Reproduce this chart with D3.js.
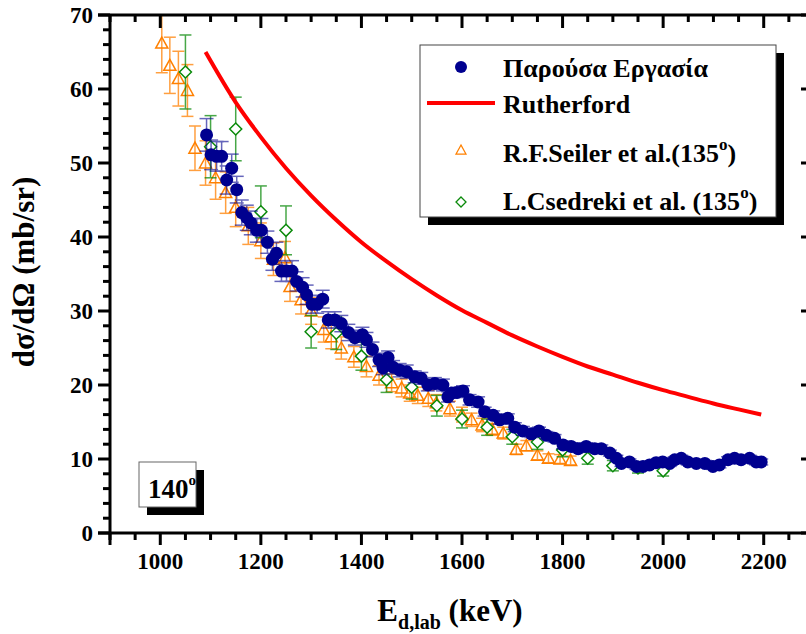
<!DOCTYPE html>
<html><head><meta charset="utf-8">
<script src="https://cdn.jsdelivr.net/npm/d3@7"></script>
<style>body{margin:0;background:#fff}svg{display:block}text{font-family:"Liberation Serif","Times New Roman",serif;font-weight:bold}</style>
</head><body>
<script>
// ---- Data ----
const blueE = [1092,1101,1112,1122,1132,1142,1152,1162,1172,1180,1192,1201,1213,1223,1231,1241,1251,1262,1271,1283,1291,1302,1312,1323,1334,1347,1360,1374,1387,1402,1410,1422,1435,1443,1453,1463,1476,1490,1506,1519,1532,1546,1562,1572,1579,1590,1602,1615,1632,1645,1662,1675,1691,1705,1721,1738,1753,1768,1784,1801,1817,1831,1847,1864,1877,1894,1907,1917,1933,1947,1960,1973,1986,1999,2013,2023,2036,2049,2066,2083,2099,2112,2129,2142,2155,2172,2185,2195];
const blueV = [53.8,51.1,50.9,50.9,47.7,49.3,46.4,43.3,42.6,41.9,40.9,40.9,39.3,37.0,37.8,35.4,35.4,35.4,34.0,33.2,32.2,30.9,30.9,31.6,28.8,28.8,28.3,27.1,26.4,26.8,26.1,24.8,23.4,22.3,23.7,22.4,22.0,21.8,21.1,20.9,20.0,20.2,20.0,18.4,18.9,19.0,19.2,18.0,17.7,16.4,15.9,15.3,15.5,14.3,13.8,13.4,13.8,13.2,12.8,11.9,11.7,11.4,11.7,11.4,11.4,10.8,10.1,9.4,9.6,9.0,9.0,9.2,9.5,9.6,9.4,9.9,10.1,9.6,9.4,9.4,9.0,9.2,9.9,10.1,9.9,10.1,9.6,9.6];
const blueErr = [2.2,2.0,2.0,2.0,1.9,1.9,1.8,1.7,1.7,1.6,1.6,1.6,1.5,1.5,1.5,1.4,1.4,1.4,1.3,1.3,1.3,1.2,1.2,1.2,1.1,1.1,1.1,1.1,1.0,1.0,1.0,1.0,0.9,0.9,0.9,0.9,0.9,0.9,0.8,0.8,0.8,0.8,0.8,0.7,0.7,0.7,0.7,0.7,0.7,0.6,0.6,0.6,0.6,0.6,0.6,0.5,0.5,0.5,0.5,0.5,0.5,0.5,0.5,0.5,0.5,0.4,0.4,0.4,0.4,0.4,0.4,0.4,0.4,0.4,0.4,0.4,0.4,0.4,0.4,0.4,0.4,0.4,0.4,0.4,0.4,0.4,0.4,0.4];

const ruthE = [1090,1150,1200,1250,1300,1350,1400,1450,1500,1550,1600,1650,1700,1750,1800,1850,1900,1950,2000,2050,2100,2150,2195];
const ruthV = [65.0,58.2,53.5,49.3,45.6,42.3,39.3,36.7,34.3,32.1,30.1,28.4,26.7,25.2,23.8,22.5,21.4,20.3,19.3,18.4,17.5,16.7,16.0];

const seilerE = [1003,1019,1036,1054,1069,1090,1110,1130,1150,1175,1200,1225,1248,1258,1280,1300,1325,1340,1360,1385,1410,1435,1460,1480,1496,1512,1533,1549,1576,1600,1619,1640,1660,1682,1708,1728,1750,1772,1795,1816];
const seilerV = [66.2,63.2,61.4,59.8,52.0,50.0,48.0,46.0,44.0,41.5,39.5,37.0,37.2,33.3,31.5,30.0,27.5,26.5,25.0,23.8,22.5,21.3,20.3,19.6,18.9,18.6,18.2,17.6,16.8,16.0,15.3,14.6,14.0,13.5,11.3,11.8,10.5,10.1,10.0,9.8];
const seilerErr = [4.0,3.8,3.7,3.5,3.0,3.0,2.9,2.8,2.6,2.5,2.4,2.2,2.2,2.0,1.9,1.8,1.7,1.6,1.5,1.4,1.4,1.3,1.2,1.2,1.1,1.1,1.1,1.1,1.0,1.0,0.9,0.9,0.8,0.8,0.7,0.7,0.6,0.6,0.6,0.6];

const csedE = [1050,1100,1150,1200,1250,1300,1350,1400,1450,1500,1550,1600,1650,1700,1750,1800,1850,1900,1950,2000];
const csedV = [62.3,52.2,54.6,43.4,40.9,27.2,27.0,23.9,20.7,19.7,17.2,15.4,14.3,13.0,12.3,11.2,10.1,9.1,8.8,8.4];
const csedErr = [5.0,4.2,4.3,3.5,3.3,2.2,2.2,1.9,1.7,1.6,1.4,1.2,1.1,1.0,1.0,0.9,0.8,0.7,0.7,0.7];

const xMajor = [1000,1200,1400,1600,1800,2000,2200];
const yMajor = [0,10,20,30,40,50,60,70];
const legendLabels = ["Παρούσα Εργασία","Rutherford","R.F.Seiler et al.(135","L.Csedreki et al. (135"];
const angleLabel = "140";

// ---- Layout ----
const W = 806, H = 634;
const L = 110, R = 814, T = 15, B = 533;
const x = d3.scaleLinear().domain([900, 2300]).range([L, R]);
const y = d3.scaleLinear().domain([0, 70]).range([B, T]);
const NAVY = "#00008f", RED = "#ff0000", ORANGE = "#ff8000", GREEN = "#0a8a0a";

const svg = d3.select("body").append("svg").attr("width", W).attr("height", H);

svg.append("defs").append("clipPath").attr("id","c")
  .append("rect").attr("x",L).attr("y",T).attr("width",R-L).attr("height",B-T);
const plot = svg.append("g").attr("clip-path","url(#c)");

function errBars(g, E, V, Er, color, cap, op, sw) {
  const gg = g.append("g").attr("stroke", color).attr("stroke-width", sw).attr("opacity", op).attr("fill","none");
  E.forEach((e,i) => {
    const cx = x(e), y1 = y(V[i]+Er[i]), y2 = y(V[i]-Er[i]);
    gg.append("line").attr("x1",cx).attr("x2",cx).attr("y1",y1).attr("y2",y2);
    gg.append("line").attr("x1",cx-cap).attr("x2",cx+cap).attr("y1",y1).attr("y2",y1);
    gg.append("line").attr("x1",cx-cap).attr("x2",cx+cap).attr("y1",y2).attr("y2",y2);
  });
}
function triPath(cx, cy, s) { return `M${cx},${cy-s*0.55}L${cx+s*0.55},${cy+s*0.45}L${cx-s*0.55},${cy+s*0.45}Z`; }
function diaPath(cx, cy, s) { return `M${cx},${cy-s}L${cx+s},${cy}L${cx},${cy+s}L${cx-s},${cy}Z`; }

// Seiler (orange triangles)
errBars(plot, seilerE, seilerV, seilerErr, ORANGE, 6, 0.75, 1.5);
plot.append("g").selectAll("path").data(seilerE).join("path")
  .attr("d", (e,i) => triPath(x(e), y(seilerV[i]), 11))
  .attr("fill","none").attr("stroke",ORANGE).attr("stroke-width",1.5);

// Csedreki (green diamonds)
errBars(plot, csedE, csedV, csedErr, GREEN, 6, 0.75, 1.5);
plot.append("g").selectAll("path").data(csedE).join("path")
  .attr("d", (e,i) => diaPath(x(e), y(csedV[i]), 6))
  .attr("fill","#fff").attr("stroke",GREEN).attr("stroke-width",1.5);

// Present work (navy circles)
errBars(plot, blueE, blueV, blueErr, NAVY, 7, 0.6, 1.5);
plot.append("g").selectAll("circle").data(blueE).join("circle")
  .attr("cx", e => x(e)).attr("cy", (e,i) => y(blueV[i])).attr("r", 6.5).attr("fill", NAVY);

// Rutherford
plot.append("path").datum(ruthE.map((e,i)=>[e, ruthV[i]]))
  .attr("d", d3.line().x(d=>x(d[0])).y(d=>y(d[1])).curve(d3.curveMonotoneX))
  .attr("fill","none").attr("stroke",RED).attr("stroke-width",4);

// ---- Axes ----
const xMinor = d3.range(900, 2301, 50).filter(v => !xMajor.includes(v));
const yMinor = d3.range(0, 71, 2).filter(v => !yMajor.includes(v));
const ax = svg.append("g").attr("stroke","#000").attr("stroke-width",3);
ax.append("line").attr("x1",L-12).attr("x2",W+5).attr("y1",B).attr("y2",B);
xMajor.forEach(v => ax.append("line").attr("x1",x(v)).attr("x2",x(v)).attr("y1",B).attr("y2",B+12));
xMinor.forEach(v => ax.append("line").attr("x1",x(v)).attr("x2",x(v)).attr("y1",B).attr("y2",B+7));
ax.append("line").attr("x1",L-12).attr("x2",W+5).attr("y1",T).attr("y2",T);
xMajor.forEach(v => ax.append("line").attr("x1",x(v)).attr("x2",x(v)).attr("y1",T).attr("y2",T+13));
xMinor.forEach(v => ax.append("line").attr("x1",x(v)).attr("x2",x(v)).attr("y1",T).attr("y2",T+7));
ax.append("line").attr("x1",L).attr("x2",L).attr("y1",T).attr("y2",B+12);
yMajor.forEach(v => ax.append("line").attr("x1",L-12).attr("x2",L).attr("y1",y(v)).attr("y2",y(v)));
yMinor.forEach(v => ax.append("line").attr("x1",L-7).attr("x2",L).attr("y1",y(v)).attr("y2",y(v)));
ax.append("line").attr("x1",R).attr("x2",R).attr("y1",T).attr("y2",B);
yMajor.forEach(v => ax.append("line").attr("x1",R-13).attr("x2",R).attr("y1",y(v)).attr("y2",y(v)));
yMinor.forEach(v => ax.append("line").attr("x1",R-7).attr("x2",R).attr("y1",y(v)).attr("y2",y(v)));

// tick labels
svg.append("g").selectAll("text").data(xMajor).join("text")
  .attr("x", v => x(v)).attr("y", 569).attr("text-anchor","middle").attr("font-size",23).text(v => v);
svg.append("g").selectAll("text").data(yMajor).join("text")
  .attr("x", 93).attr("y", v => y(v)+8).attr("text-anchor","end").attr("font-size",23).text(v => v);

// axis titles
const xt = svg.append("text").attr("x", 450).attr("y", 621).attr("text-anchor","middle").attr("font-size",31);
xt.append("tspan").text("E");
xt.append("tspan").attr("font-size",20).attr("dy",8).text("d,lab");
xt.append("tspan").attr("dy",-8).text(" (keV)");
svg.append("text").attr("transform","translate(34,272) rotate(-90)").attr("text-anchor","middle")
  .attr("font-size",31).text("dσ/dΩ (mb/sr)");

// ---- Legend ----
const lg = svg.append("g");
lg.append("rect").attr("x",428).attr("y",53).attr("width",356).attr("height",172).attr("fill","#000");
lg.append("rect").attr("x",420).attr("y",45).attr("width",356).attr("height",172).attr("fill","#fff").attr("stroke","#444").attr("stroke-width",1);
lg.append("circle").attr("cx",461).attr("cy",67).attr("r",6).attr("fill",NAVY);
lg.append("line").attr("x1",427).attr("x2",495).attr("y1",103).attr("y2",103).attr("stroke",RED).attr("stroke-width",4);
lg.append("path").attr("d",triPath(461,150,9)).attr("fill","none").attr("stroke",ORANGE).attr("stroke-width",1.3);
lg.append("path").attr("d",diaPath(461,202,5)).attr("fill","none").attr("stroke",GREEN).attr("stroke-width",1.3);
const base = [77,113,162,210];
legendLabels.forEach((t,i) => {
  const tx = lg.append("text").attr("x",503).attr("y",base[i]).attr("font-size",26);
  tx.append("tspan").text(t);
  if (i >= 2) {
    tx.append("tspan").attr("font-size",17).attr("dy",-12).text("o");
    tx.append("tspan").attr("dy",12).text(")");
  }
});

// ---- Angle box ----
const ab = svg.append("g");
ab.append("rect").attr("x",147).attr("y",470).attr("width",57).attr("height",45).attr("fill","#000");
ab.append("rect").attr("x",139).attr("y",462).attr("width",57).attr("height",45).attr("fill","#fff").attr("stroke","#666").attr("stroke-width",1);
const at = ab.append("text").attr("x",148).attr("y",498).attr("font-size",27);
at.append("tspan").text(angleLabel);
at.append("tspan").attr("font-size",15).attr("dy",-13).text("o");
</script>
</body></html>
